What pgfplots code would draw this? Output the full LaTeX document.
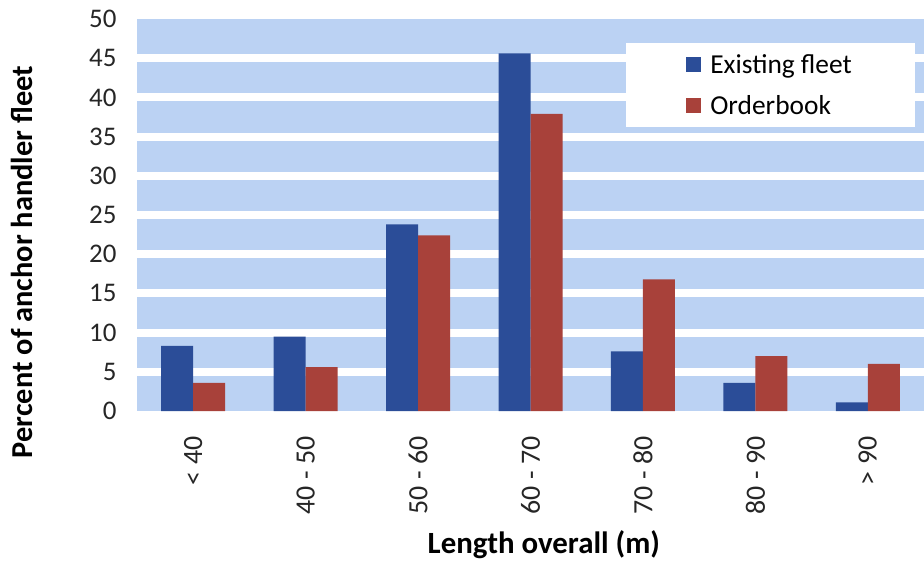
\documentclass[border=0pt]{standalone}
\usepackage{pgfplots}
\pgfplotsset{compat=1.18}
\usepackage{fontspec}
\setmainfont{Carlito}
\definecolor{barblue}{HTML}{2B4D98}
\definecolor{barred}{HTML}{A8413A}
\definecolor{bgblue}{HTML}{BBD2F3}
\begin{document}
\begin{tikzpicture}
\begin{axis}[
  at={(0,0)}, anchor=south west,
  scale only axis, width=787bp, height=392bp,
  xmin=-0.5, xmax=6.5, ymin=0, ymax=50,
  ybar=0pt, bar width=32bp,
  axis line style={draw=none},
  tick style={draw=none},
  major tick length=0pt,
  axis background/.style={fill=bgblue},
  xtick={0,1,2,3,4,5,6},
  xticklabels={{< 40},{40 - 50},{50 - 60},{60 - 70},{70 - 80},{80 - 90},{> 90}},
  xticklabel style={rotate=90, anchor=east, font=\fontsize{28}{32}\selectfont, text=black!85},
  xticklabel shift=22bp,
  ytick={0,5,...,50},
  yticklabel style={font=\fontsize{27}{30}\selectfont, text=black!85},
  yticklabel shift=17bp,
  /pgf/number format/assume math mode=true,
  extra y ticks={5,10,...,45},
  extra y tick labels={},
  extra y tick style={ymajorgrids=true, major grid style={white, line width=8bp}},
  xlabel={Length overall (m)},
  xlabel style={font=\bfseries\fontsize{31}{36}\selectfont, at={(axis description cs:0.517,-0.342)}, anchor=center},
  ylabel={Percent of anchor handler fleet},
  ylabel style={font=\bfseries\fontsize{30.5}{36}\selectfont, at={(axis description cs:-0.146,0.38)}, anchor=center},
  legend style={at={(axis description cs:0.9886,0.939)}, anchor=north east, draw=none, fill=white,
    font=\fontsize{27.5}{32}\selectfont, inner xsep=60bp, inner ysep=8bp, row sep=15bp,
    /tikz/column sep=6bp,
    nodes={inner sep=3bp}, cells={anchor=west}},
  legend image code/.code={\fill[#1] (0bp,-7.5bp) rectangle (15bp,7.5bp);},
]
\addplot[fill=barblue, draw=none] coordinates {(0,8.3) (1,9.5) (2,23.8) (3,45.6) (4,7.6) (5,3.6) (6,1.1)};
\addplot[fill=barred, draw=none] coordinates {(0,3.6) (1,5.6) (2,22.4) (3,37.9) (4,16.8) (5,7.0) (6,6.0)};
\legend{Existing fleet, Orderbook}
\end{axis}
\pgfresetboundingbox
\path (-137bp,-169bp) rectangle (787bp,411bp);
\end{tikzpicture}
\end{document}
